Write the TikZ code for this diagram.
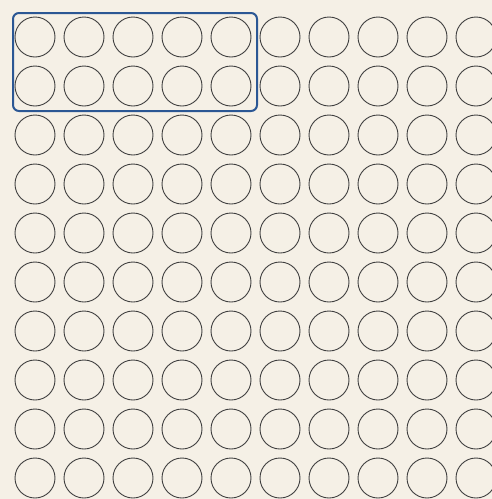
\documentclass[tikz,border=0pt]{standalone}
\usepackage{tikz}
\definecolor{Paper}{HTML}{F5F0E6}
\definecolor{Ink}{HTML}{3F3F3F}
\definecolor{Mark}{HTML}{2B5794}

\begin{document}
\begin{tikzpicture}[x=1pt, y=-1pt,
    dot/.style={circle, draw=Ink, line width=0.9pt, minimum size=40pt, inner sep=0pt}]
  \fill[Paper] (0,0) rectangle (492,499);
  \useasboundingbox (0,0) rectangle (492,499);
  \foreach \r in {0,...,9} {
    \foreach \c in {0,...,9} {
      \node[dot] (c-\r-\c) at ({35+49*\c}, {37+49*\r}) {};
    }
  }
  \draw[Mark, line width=2pt, rounded corners=6pt] (13,13) rectangle (257,111);
\end{tikzpicture}
\end{document}
